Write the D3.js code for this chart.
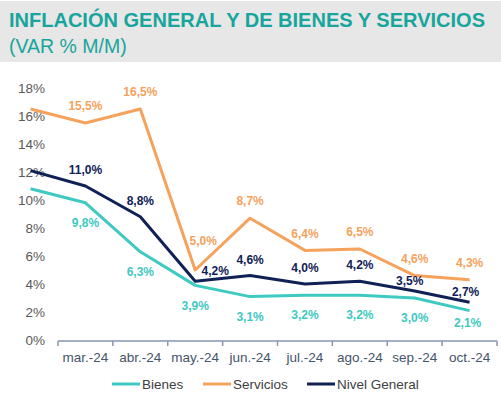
<!DOCTYPE html>
<html>
<head>
<meta charset="utf-8">
<script src="https://cdn.jsdelivr.net/npm/d3@7"></script>
<style>
  body { margin: 0; background: #fff; }
  svg { display: block; font-family: "Liberation Sans", Arial, sans-serif; }
</style>
</head>
<body>
<svg id="chart" width="501" height="398"></svg>
<script>
// months shown on the axis; the line also starts from the previous month at the axis edge
const months = ["mar.-24", "abr.-24", "may.-24", "jun.-24", "jul.-24", "ago.-24", "sep.-24", "oct.-24"];
const yTicks = [0, 2, 4, 6, 8, 10, 12, 14, 16, 18];

// first value = starting point (feb), then one per month
const bienes    = [10.8, 9.8, 6.3, 3.9, 3.1, 3.2, 3.2, 3.0, 2.1];
const servicios = [16.5, 15.5, 16.5, 5.0, 8.7, 6.4, 6.5, 4.6, 4.3];
const general   = [12.1, 11.0, 8.8, 4.2, 4.6, 4.0, 4.2, 3.5, 2.7];

const series = [
  { name: "Bienes", values: bienes, color: "#3ec9c1", dy: 20 },
  { name: "Servicios", values: servicios, color: "#f5a25d", dy: -17 },
  { name: "Nivel General", values: general, color: "#0f2155", dy: -16 }
];

// a few labels sit off the default spot
const labelShift = {
  "Servicios-2": [8, -12],
  "Nivel General-2": [20, 6],
  "Nivel General-6": [-5, 6],
  "Nivel General-7": [-4, 6],
  "Bienes-7": [-2, -8]
};

const svg = d3.select("#chart");
const W = 501, H = 398;

// header band
svg.append("rect").attr("x", 0).attr("y", 1).attr("width", W).attr("height", 61).attr("fill", "#e7e7e7");
svg.append("text")
  .attr("x", 9).attr("y", 27)
  .attr("font-size", 20).attr("font-weight", "bold")
  .attr("fill", "#17a59d")
  .attr("textLength", 476).attr("lengthAdjust", "spacingAndGlyphs")
  .text("INFLACIÓN GENERAL Y DE BIENES Y SERVICIOS");
svg.append("text")
  .attr("x", 9).attr("y", 53)
  .attr("font-size", 19.5)
  .attr("fill", "#17a59d")
  .text("(VAR % M/M)");

const x = d3.scaleLinear().domain([-0.5, months.length - 0.5]).range([58, 497]);
const y = d3.scaleLinear().domain([0, 18]).range([340, 88]);

// y labels, no axis line
svg.append("g").selectAll("text")
  .data(yTicks).join("text")
  .attr("x", 45).attr("y", d => y(d))
  .attr("dy", "0.35em")
  .attr("text-anchor", "end")
  .attr("font-size", 13.5)
  .attr("fill", "#595959")
  .text(d => d + "%");

// x axis with ticks between months
const xAxis = svg.append("g").attr("transform", "translate(0,341)");
xAxis.append("line").attr("x1", 58).attr("x2", 497).attr("stroke", "#8796b3").attr("stroke-width", 1.5);
xAxis.selectAll(".tk")
  .data(d3.range(months.length + 1)).join("line")
  .attr("class", "tk")
  .attr("x1", i => x(i - 0.5)).attr("x2", i => x(i - 0.5))
  .attr("y1", 0).attr("y2", 5)
  .attr("stroke", "#8796b3").attr("stroke-width", 1.5);
xAxis.selectAll(".lbl")
  .data(months).join("text")
  .attr("class", "lbl")
  .attr("x", (d, i) => x(i)).attr("y", 16)
  .attr("dy", "0.35em")
  .attr("text-anchor", "middle")
  .attr("font-size", 13.5)
  .attr("fill", "#44546a")
  .text(d => d);

const line = d3.line()
  .x((d, i) => x(i - 1))
  .y(d => y(d));

// draw order: bienes, servicios, general on top
series.forEach(s => {
  svg.append("path")
    .datum(s.values)
    .attr("d", line)
    .attr("fill", "none")
    .attr("stroke", s.color)
    .attr("stroke-width", 3)
    .attr("stroke-linejoin", "round");
});

series.forEach(s => {
  svg.append("g").selectAll("text")
    .data(s.values.slice(1)).join("text")
    .attr("x", (d, i) => x(i) + (labelShift[s.name + "-" + i] || [0, 0])[0])
    .attr("y", (d, i) => y(d) + s.dy + (labelShift[s.name + "-" + i] || [0, 0])[1])
    .attr("dy", "0.35em")
    .attr("text-anchor", "middle")
    .attr("font-size", 12)
    .attr("font-weight", "bold")
    .attr("fill", s.color)
    .text(d => d.toFixed(1).replace(".", ",") + "%");
});

// legend
const legendX = [112, 203, 307];
const legend = svg.append("g").attr("transform", "translate(0,384)");
series.forEach((s, i) => {
  legend.append("line")
    .attr("x1", legendX[i]).attr("x2", legendX[i] + 28)
    .attr("stroke", s.color).attr("stroke-width", 3);
  legend.append("text")
    .attr("x", legendX[i] + 30).attr("dy", "0.35em")
    .attr("font-size", 13.5)
    .attr("fill", "#404040")
    .text(s.name);
});
</script>
</body>
</html>
